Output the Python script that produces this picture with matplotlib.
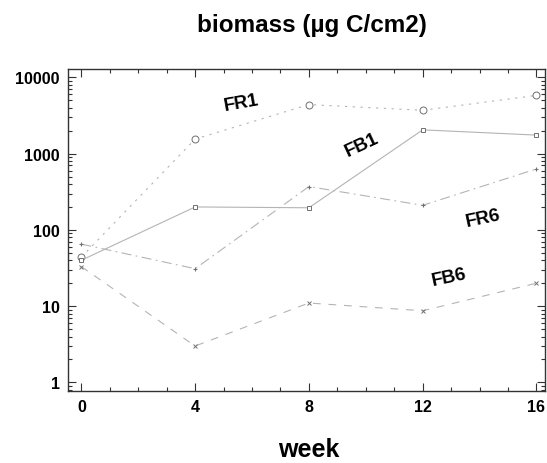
import matplotlib
matplotlib.use('Agg')
import matplotlib.pyplot as plt
from matplotlib.ticker import LogLocator, MultipleLocator, NullFormatter

plt.rcParams['font.family'] = ['Liberation Sans', 'DejaVu Sans']
plt.rcParams['font.weight'] = 'bold'

weeks = [0, 4, 8, 12, 16]
fr1 = [44, 1550, 4400, 3700, 5800]
fb1 = [40, 200, 195, 2050, 1750]
fr6 = [65, 31, 370, 210, 630]
fb6 = [33, 3.0, 11, 8.7, 20]

yticks = [1, 10, 100, 1000, 10000]
ylabels = ['1', '10', '100', '1000', '10000']

fig = plt.figure(figsize=(5.47, 4.64), dpi=100)
ax = fig.add_axes([0.1243, 0.155, 0.872, 0.694])

line_col = '#b4b4b4'
mk_col = '#707070'
ax.plot(weeks, fr1, color=line_col, lw=0.8, linestyle=(0, (2, 5)),
        marker='o', ms=5, mfc='white', mec=mk_col, mew=0.7)
ax.plot(weeks, fb1, color=line_col, lw=0.8, linestyle='-',
        marker='s', ms=3.5, mfc='white', mec=mk_col, mew=0.7)
ax.plot(weeks, fr6, color=line_col, lw=0.8, linestyle=(0, (9, 4, 1.5, 4)),
        marker='+', ms=3, mec=mk_col, mew=0.8)
ax.plot(weeks, fb6, color=line_col, lw=0.8, linestyle=(0, (7, 7)),
        marker='x', ms=3.5, mec=mk_col, mew=0.7)

ax.set_yscale('log')
ax.set_xlim(-0.47, 16.3)
ax.set_ylim(0.77, 12850)
ax.set_yticks(yticks)
ax.set_yticklabels(ylabels)
ax.yaxis.set_minor_locator(LogLocator(base=10, subs=range(2, 10)))
ax.yaxis.set_minor_formatter(NullFormatter())
ax.set_xticks(weeks)
ax.xaxis.set_minor_locator(MultipleLocator(1))

ax.tick_params(which='both', direction='in', top=True, right=True,
               labelsize=11.5, width=0.8, color='#333333')
ax.tick_params(which='major', length=6, pad=6)
ax.tick_params(which='minor', length=3)
for s in ax.spines.values():
    s.set_linewidth(1.0)
    s.set_color('#333333')

ax.text(5.61, 4750, 'FR1', fontsize=13.5, rotation=10, ha='center', va='center')
ax.text(9.87, 1335, 'FB1', fontsize=13.5, rotation=25, ha='center', va='center')
ax.text(14.12, 142, 'FR6', fontsize=13.5, rotation=12, ha='center', va='center')
ax.text(12.93, 24.2, 'FB6', fontsize=13.5, rotation=12, ha='center', va='center')

fig.text(0.571, 0.944, 'biomass (µg C/cm2)', fontsize=17.5, ha='center', va='center')
fig.text(0.565, 0.004, 'week', fontsize=18, ha='center', va='bottom')

fig.savefig('out.png', dpi=100)
